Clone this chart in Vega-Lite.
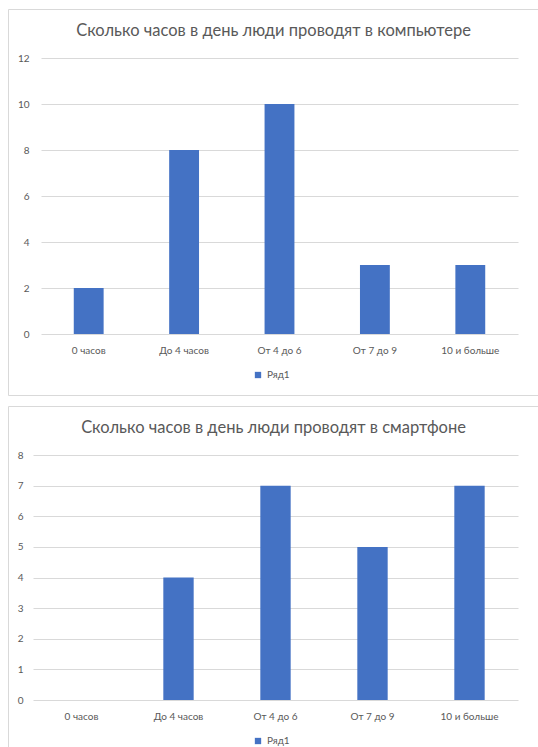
{
  "$schema": "https://vega.github.io/schema/vega-lite/v6.json",
  "padding": {"left": 7, "top": 8, "right": 0, "bottom": 0},
  "background": "#ffffff",
  "spacing": 9,
  "config": {
    "font": "Lato",
    "view": {"stroke": "#d9d9d9", "strokeWidth": 1},
    "title": {"font": "Lato", "fontSize": 16.5, "fontWeight": "normal", "color": "#595959", "anchor": "middle", "frame": "group"},
    "axis": {"labelFont": "Lato", "labelFontSize": 10, "labelColor": "#595959", "gridColor": "#d9d9d9", "gridWidth": 1, "domain": false, "ticks": false},
    "legend": {"labelFont": "Lato", "labelFontSize": 10, "labelColor": "#595959", "symbolType": "square", "symbolSize": 40, "symbolStrokeWidth": 0, "padding": 0}
  },
  "datasets": {
    "computer": [
      {"cat": "0 часов", "value": 2, "series": "Ряд1"},
      {"cat": "До 4 часов", "value": 8, "series": "Ряд1"},
      {"cat": "От 4 до 6", "value": 10, "series": "Ряд1"},
      {"cat": "От 7 до 9", "value": 3, "series": "Ряд1"},
      {"cat": "10 и больше", "value": 3, "series": "Ряд1"}
    ],
    "phone": [
      {"cat": "0 часов", "value": 0, "series": "Ряд1"},
      {"cat": "До 4 часов", "value": 4, "series": "Ряд1"},
      {"cat": "От 4 до 6", "value": 7, "series": "Ряд1"},
      {"cat": "От 7 до 9", "value": 5, "series": "Ряд1"},
      {"cat": "10 и больше", "value": 7, "series": "Ряд1"}
    ]
  },
  "vconcat": [
    {
      "width": 531,
      "height": 386,
      "title": {"text": "Сколько часов в день люди проводят в компьютере", "offset": -30},
      "data": {"name": "computer"},
      "mark": {"type": "bar"},
      "encoding": {
        "x": {
          "field": "cat", "type": "nominal", "sort": null,
          "scale": {"range": [33, 510], "paddingInner": 0.687, "paddingOuter": 0.3435},
          "axis": {"title": null, "labelAngle": 0, "offset": -61, "labelPadding": 11, "grid": false}
        },
        "y": {
          "field": "value", "type": "quantitative",
          "scale": {"domain": [0, 12], "range": [325, 49], "nice": false},
          "axis": {"title": null, "values": [0, 2, 4, 6, 8, 10, 12], "offset": -24, "labelPadding": 3}
        },
        "color": {
          "field": "series", "type": "nominal",
          "scale": {"range": ["#4472C4"]},
          "legend": {"title": null, "orient": "none", "legendX": 245, "legendY": 361, "direction": "horizontal"}
        }
      }
    },
    {
      "width": 531,
      "height": 344,
      "title": {"text": "Сколько часов в день люди проводят в смартфоне", "offset": -30},
      "data": {"name": "phone"},
      "mark": {"type": "bar"},
      "encoding": {
        "x": {
          "field": "cat", "type": "nominal", "sort": null,
          "scale": {"range": [25, 510], "paddingInner": 0.687, "paddingOuter": 0.3435},
          "axis": {"title": null, "labelAngle": 0, "offset": -50, "labelPadding": 11, "grid": false}
        },
        "y": {
          "field": "value", "type": "quantitative",
          "scale": {"domain": [0, 8], "range": [294, 49], "nice": false},
          "axis": {"title": null, "values": [0, 1, 2, 3, 4, 5, 6, 7, 8], "offset": -18, "labelPadding": 3}
        },
        "color": {
          "field": "series", "type": "nominal",
          "scale": {"range": ["#4472C4"]},
          "legend": {"title": null, "orient": "none", "legendX": 245, "legendY": 330, "direction": "horizontal"}
        }
      }
    }
  ],
  "resolve": {"scale": {"color": "independent"}}
}
